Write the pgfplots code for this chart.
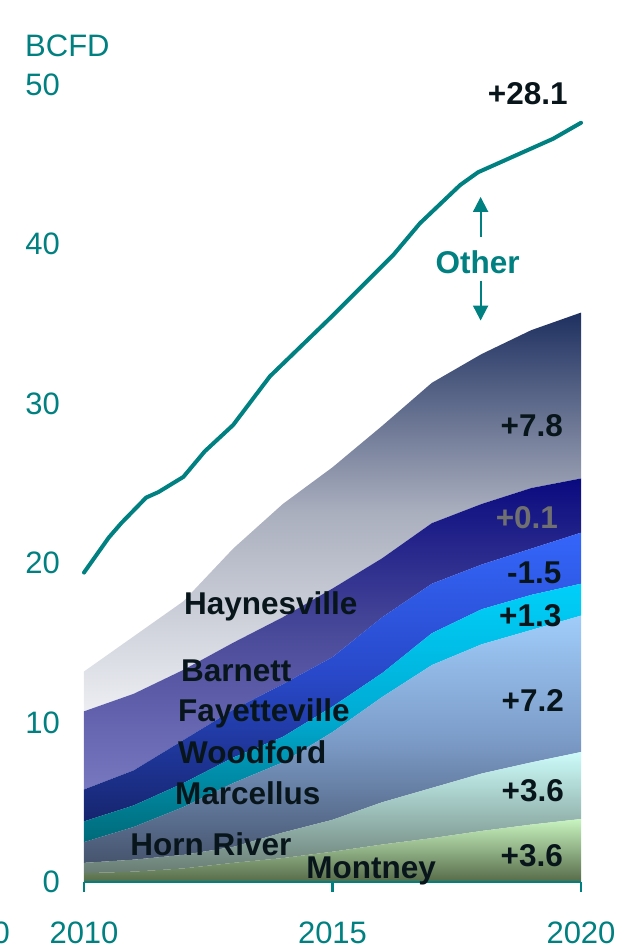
\documentclass[border=0pt]{standalone}
\usepackage{fontspec}
\setmainfont{Liberation Sans}
\usepackage{pgfplots}
\pgfplotsset{compat=1.18}
\usepackage{pgfplotstable}
\usetikzlibrary{arrows.meta}

\definecolor{axteal}{RGB}{0,128,128}
\definecolor{labink}{RGB}{8,22,28}

% cumulative tops of the stacked shale plays, BCFD
\pgfplotstableread{
year  M     H     Ma    W     F     B     Hy
2010  0.55  1.20  2.50  3.80  5.80  10.7  13.2
2011  0.65  1.40  3.45  4.80  7.00  11.8  15.4
2012  0.85  1.70  4.70  6.20  8.90  13.3  17.6
2013  1.20  2.20  6.20  7.80  10.8  15.0  20.9
2014  1.50  3.10  7.50  9.10  12.4  16.6  23.7
2015  1.90  3.90  9.40  11.0  14.1  18.4  26.0
2016  2.35  5.00  11.6  13.1  16.6  20.3  28.6
2017  2.75  5.90  13.6  15.6  18.7  22.5  31.3
2018  3.20  6.80  14.9  17.1  19.9  23.7  33.1
2019  3.60  7.50  15.8  18.0  20.9  24.7  34.6
2020  3.95  8.15  16.7  18.7  21.9  25.3  35.7
}\shale

% total production including other sources
\pgfplotstableread{
year     total
2010.00  19.4
2010.50  21.6
2010.75  22.5
2011.25  24.1
2011.50  24.45
2012.00  25.4
2012.43  27.0
2013.00  28.65
2013.74  31.7
2015.00  35.5
2016.22  39.3
2016.76  41.3
2017.57  43.7
2017.93  44.5
2019.44  46.6
2020.00  47.6
}\total

\newcommand{\reg}{\fontsize{31}{37}\selectfont}
\newcommand{\bld}{\fontsize{31.5}{38}\selectfont\bfseries}

\pgfplotsset{
  frame/.style={
    at={(0pt,0pt)}, anchor=south west,
    scale only axis, width=497pt, height=797.5pt,
    xmin=2010, xmax=2020, ymin=0, ymax=50,
    clip=false,
  },
}

\begin{document}
\begin{tikzpicture}
\useasboundingbox (-84pt,-66pt) rectangle (548pt,882pt);
% stacked plays
\begin{axis}[
  frame,
  stack plots=y,
  axis lines*=left,
  axis on top,
  x axis line style={draw=axteal, line width=2.5pt, -},
  y axis line style={draw=none},
  xtick={2010,2015,2020}, xticklabels={2010,2015,2020},
  ytick={0,10,20,30,40,50}, yticklabels={0,10,20,30,40,50},
  xtick align=outside,
  major tick length=10pt,
  xtick style={draw=axteal, line width=2.5pt},
  ytick style={draw=none},
  ticklabel style={text=axteal, font=\reg, inner sep=0pt},
  yticklabel style={anchor=east, xshift=-24pt},
  xticklabel style={anchor=base, yshift=-51pt},
]
% Montney
\addplot[draw=none, top color={rgb,255:red,200;green,244;blue,192}, bottom color={rgb,255:red,86;green,106;blue,72}]
  table[x=year, y=M] {\shale} \closedcycle;
% Horn River
\addplot[draw=none, top color={rgb,255:red,204;green,252;blue,250}, bottom color={rgb,255:red,104;green,124;blue,114}]
  table[x=year, y expr=\thisrow{H}-\thisrow{M}] {\shale} \closedcycle;
% Marcellus
\addplot[draw=none, top color={rgb,255:red,160;green,204;blue,250}, bottom color={rgb,255:red,70;green,84;blue,110}, middle color={rgb,255:red,124;green,156;blue,200}]
  table[x=year, y expr=\thisrow{Ma}-\thisrow{H}] {\shale} \closedcycle;
% Woodford
\addplot[draw=none, top color={rgb,255:red,0;green,208;blue,250}, bottom color={rgb,255:red,0;green,106;blue,120}, middle color={rgb,255:red,0;green,172;blue,212}]
  table[x=year, y expr=\thisrow{W}-\thisrow{Ma}] {\shale} \closedcycle;
% Fayetteville
\addplot[draw=none, top color={rgb,255:red,52;green,102;blue,250}, bottom color={rgb,255:red,22;green,37;blue,110}, middle color={rgb,255:red,40;green,72;blue,200}]
  table[x=year, y expr=\thisrow{F}-\thisrow{W}] {\shale} \closedcycle;
% Barnett
\addplot[draw=none, top color={rgb,255:red,10;green,10;blue,128}, bottom color={rgb,255:red,120;green,120;blue,192}, middle color={rgb,255:red,74;green,74;blue,154}]
  table[x=year, y expr=\thisrow{B}-\thisrow{F}] {\shale} \closedcycle;
% Haynesville
\addplot[draw=none, top color={rgb,255:red,30;green,48;blue,96}, bottom color={rgb,255:red,236;green,238;blue,242}, middle color={rgb,255:red,170;green,175;blue,190}]
  table[x=year, y expr=\thisrow{Hy}-\thisrow{B}] {\shale} \closedcycle;
\end{axis}

% total line and annotations
\begin{axis}[frame, hide axis]
\addplot[axteal, line width=4pt, line join=round, line cap=round] table[x=year, y=total] {\total};

% play names
\begin{scope}[every node/.style={inner sep=0pt, anchor=base west, text=labink, font=\bld}]
\node at (axis cs:2012.01,16.75) {Haynesville};
\node at (axis cs:2011.95,12.55) {Barnett};
\node at (axis cs:2011.89,10.05) {Fayetteville};
\node at (axis cs:2011.89,7.44) {Woodford};
\node at (axis cs:2011.83,4.83) {Marcellus};
\node at (axis cs:2010.93,1.69) {Horn River};
\node at (axis cs:2014.47,0.25) {Montney};
\end{scope}

% change 2010-2020
\begin{scope}[every node/.style={inner sep=0pt, anchor=east, text=labink, font=\bld}]
\node at (axis cs:2019.64,28.6) {+7.8};
\node[text={rgb,255:red,112;green,112;blue,112}] at (axis cs:2019.54,22.85) {+0.1};
\node at (axis cs:2019.61,19.4) {-1.5};
\node at (axis cs:2019.61,16.68) {+1.3};
\node at (axis cs:2019.66,11.35) {+7.2};
\node at (axis cs:2019.66,5.7) {+3.6};
\node at (axis cs:2019.64,1.63) {+3.6};
\end{scope}
\node[inner sep=0pt, text=labink, font=\bld] at (axis cs:2018.93,49.4) {+28.1};

% other sources
\node[inner sep=0pt, text=axteal, font=\bld] at (axis cs:2017.92,38.84) {Other};
\draw[axteal, line width=2pt, -{Triangle[width=15pt,length=15pt]}] (axis cs:2017.98,40.44) -- (axis cs:2017.98,42.95);
\draw[axteal, line width=2pt, -{Triangle[width=15pt,length=15pt]}] (axis cs:2017.98,37.7) -- (axis cs:2017.98,35.2);
\end{axis}
\node[anchor=base west, inner sep=0pt, text=axteal, font=\reg] at (-59pt,825pt) {BCFD};
\node[anchor=base east, inner sep=0pt, text=axteal, font=\reg] at (-74pt,-61pt) {2000};
\end{tikzpicture}
\end{document}
